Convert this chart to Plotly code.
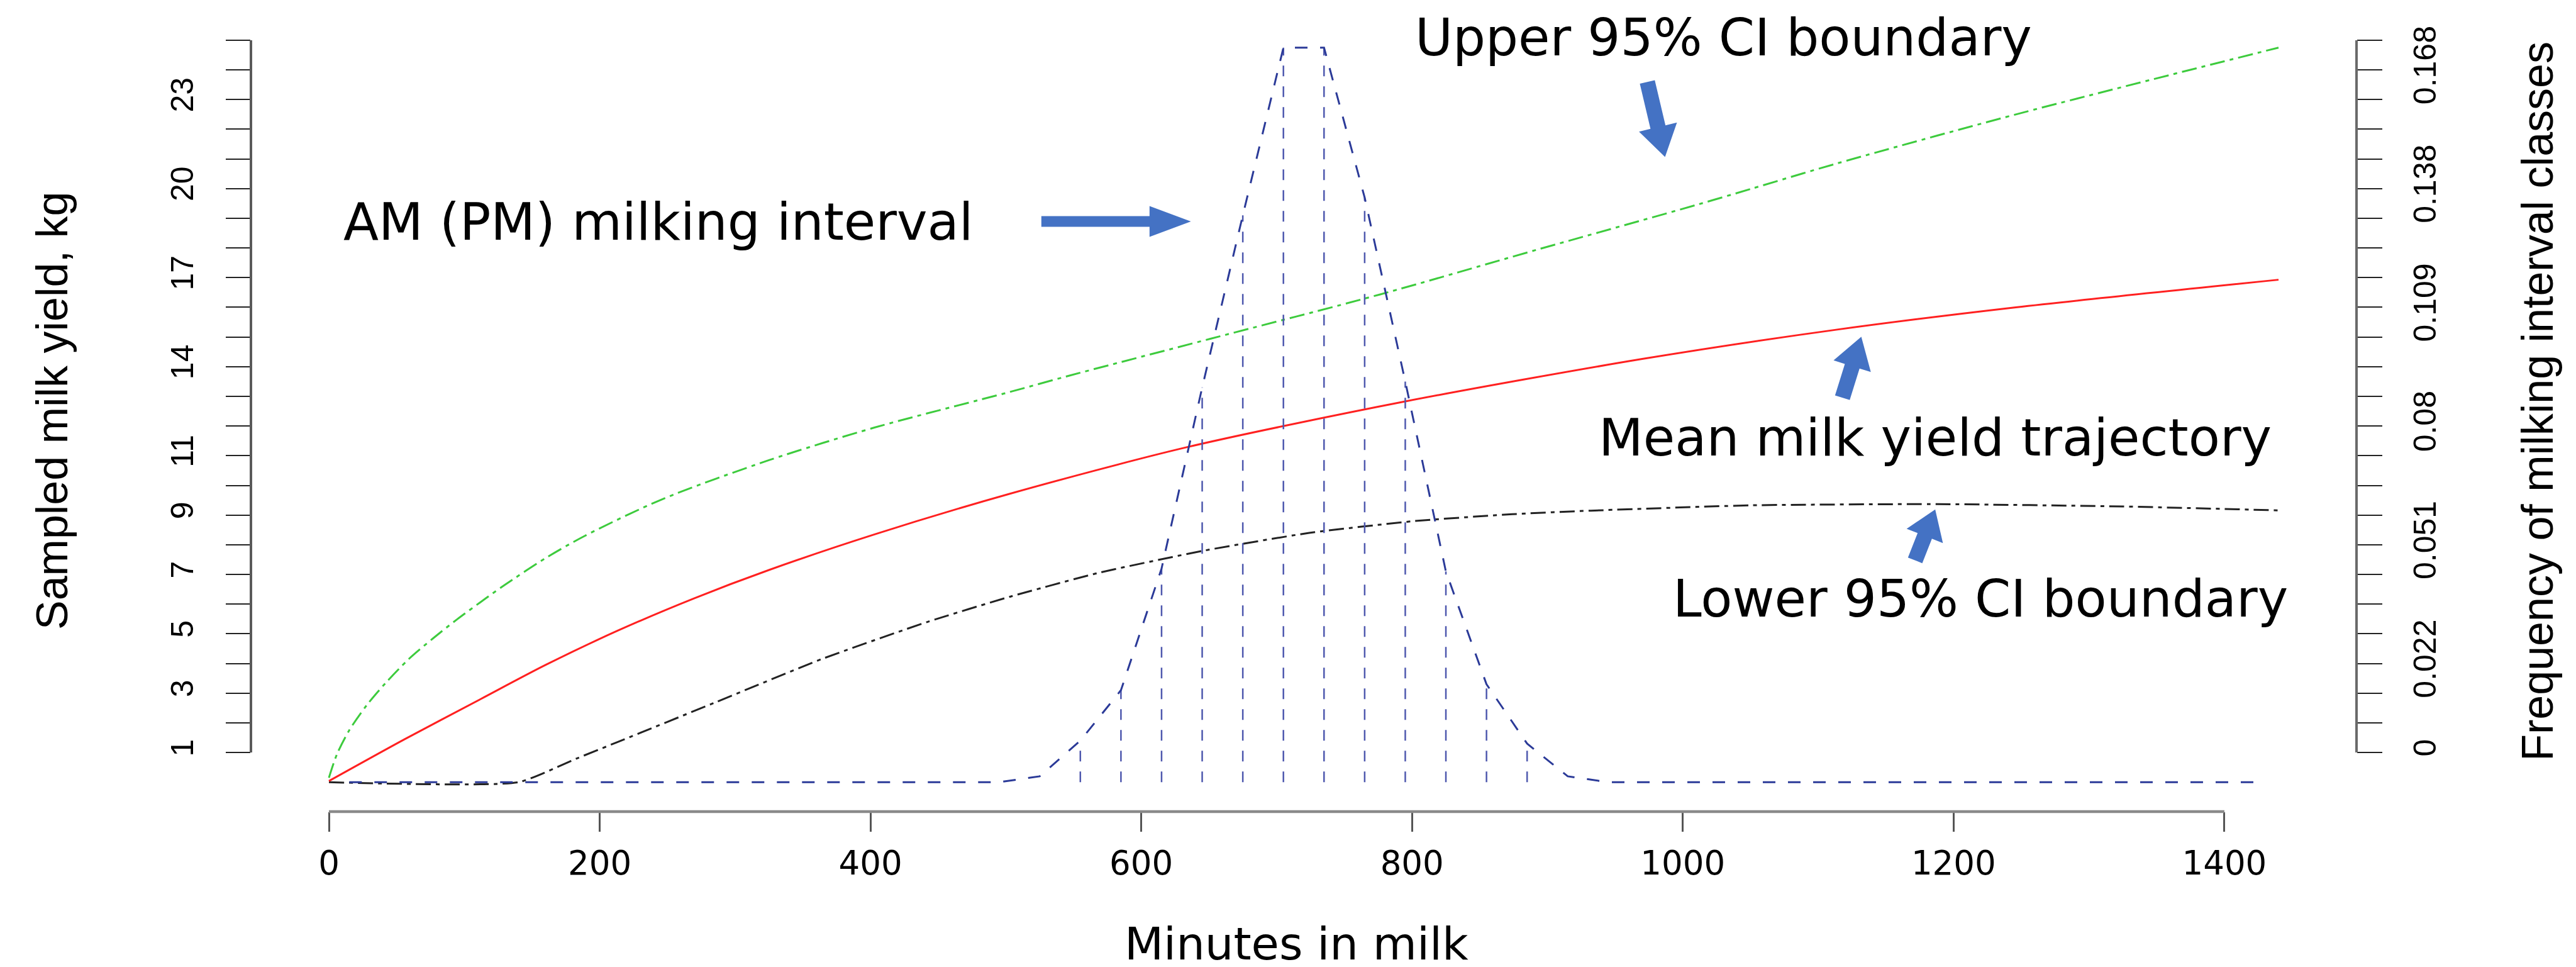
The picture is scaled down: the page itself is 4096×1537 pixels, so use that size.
import math
import plotly.graph_objects as go

# ---------------- data ----------------
mean_min = [0, 56, 112, 160, 213, 270, 325, 403, 503, 633, 795, 970, 1114, 1246, 1440]
mean_kg = [0.04, 1.45, 2.8, 3.95, 5.1, 6.2, 7.15, 8.35, 9.72, 11.28, 12.83, 14.26, 15.25, 16.0, 16.93]

upper_min = [0, 6, 15, 28, 42, 59, 77, 95, 116, 130, 160, 189, 247, 325, 403, 503, 547, 651, 776,
             893, 1010, 1051, 1114, 1246, 1440]
upper_kg = [0.15, 0.95, 1.75, 2.6, 3.35, 4.15, 4.85, 5.5, 6.2, 6.65, 7.55, 8.3, 9.55, 10.85, 11.95,
            13.15, 13.7, 14.94, 16.43, 17.95, 19.45, 20.0, 20.85, 22.5, 24.75]

lower_min = [0, 140, 183, 213, 286, 364, 442, 503, 568, 646, 724, 802, 874, 932, 1051, 1188, 1325, 1440]
lower_kg = [0, 0, 0.8, 1.35, 2.7, 4.15, 5.4, 6.25, 7.05, 7.8, 8.4, 8.8, 9.03, 9.15, 9.33, 9.37, 9.29, 9.16]

class_mid = list(range(15, 1426, 30))
class_freq = [0, 0, 0, 0, 0, 0, 0, 0, 0, 0, 0, 0, 0, 0, 0, 0, 0,
              0.2, 1.4, 3.1, 7.2, 13.3, 19.1, 24.75, 24.75, 19.7, 13.5, 7.1, 3.3, 1.3, 0.2,
              0, 0, 0, 0, 0, 0, 0, 0, 0, 0, 0, 0, 0, 0, 0, 0, 0]

x_ticks = [0, 200, 400, 600, 800, 1000, 1200, 1400]
y_tick_pos = list(range(1, 26))
left_tick_text = ['1', '', '3', '', '5', '', '7', '', '9', '', '11', '', '', '14', '', '', '17',
                  '', '', '20', '', '', '23', '', '']
right_tick_text = ['0', '', '', '0.022', '', '', '', '0.051', '', '', '', '0.08', '', '', '',
                   '0.109', '', '', '', '0.138', '', '', '', '0.168', '']

# ---------------- geometry ----------------
S = 0.94
W, H = 4096, 1537
ML, MR, MT, MB = 391, 357, 21, 255
PW, PH = W - ML - MR, H - MT - MB
XR = [-57.6, 1497.6]
YR = [-0.99, 25.74]

def px(xf, yf):
    """reference full-size pixel -> paper coords"""
    xo, yo = xf * S, yf * S
    return (xo - ML) / PW, (H - MB - yo) / PH

def xpaper(v):
    return (v - XR[0]) / (XR[1] - XR[0])

def ypaper(v):
    return (v - YR[0]) / (YR[1] - YR[0])

ARIAL = "Liberation Sans, Arial, sans-serif"
WIDE = "DejaVu Sans, Verdana, sans-serif"

fig = go.Figure()

# vertical class lines
vx, vy = [], []
for m, f in zip(class_mid, class_freq):
    if f >= 1:
        vx += [m, m, None]
        vy += [0, f, None]
fig.add_trace(go.Scatter(x=vx, y=vy, mode='lines', yaxis='y2',
                         line=dict(color='#4E58AE', width=2.5, dash='17px,16px'),
                         hoverinfo='skip'))
fig.add_trace(go.Scatter(x=class_mid, y=class_freq, mode='lines', yaxis='y2',
                         line=dict(color='#2B3A98', width=3, dash='20px,20px')))
fig.add_trace(go.Scatter(x=lower_min, y=lower_kg, mode='lines',
                         line=dict(color='#222222', width=3, dash='24px,8px,6px,8px',
                                   shape='spline', smoothing=0.5)))
fig.add_trace(go.Scatter(x=upper_min, y=upper_kg, mode='lines',
                         line=dict(color='#3DCB3D', width=3, dash='24px,8px,6px,8px',
                                   shape='spline', smoothing=0.8)))
fig.add_trace(go.Scatter(x=mean_min, y=mean_kg, mode='lines',
                         line=dict(color='#FF2020', width=3, shape='spline', smoothing=0.8)))

shapes = []
# axis lines (R style: only between extreme ticks)
shapes.append(dict(type='line', xref='paper', yref='paper', x0=xpaper(0), x1=xpaper(1400),
                   y0=0, y1=0, line=dict(color='#8A8A8A', width=4.5)))
shapes.append(dict(type='line', xref='paper', yref='paper', x0=0, x1=0,
                   y0=ypaper(1), y1=ypaper(25), line=dict(color='#5A5A5A', width=4)))
shapes.append(dict(type='line', xref='paper', yref='paper', x0=1, x1=1,
                   y0=ypaper(1), y1=ypaper(25), line=dict(color='#6A6A6A', width=4)))

# block arrows (reference pixel geometry)
def arrow(tail, tip, w, h, hl):
    tx, ty = tail; qx, qy = tip
    dx, dy = qx - tx, qy - ty
    ln = math.hypot(dx, dy)
    ux, uy = dx / ln, dy / ln
    nx, ny = -uy, ux
    bx, by = qx - ux * hl, qy - uy * hl
    pts = [(tx + nx * w, ty + ny * w), (bx + nx * w, by + ny * w), (bx + nx * h, by + ny * h),
           (qx, qy), (bx - nx * h, by - ny * h), (bx - nx * w, by - ny * w), (tx - nx * w, ty - ny * w)]
    pp = [px(a, b) for a, b in pts]
    path = 'M ' + ' L '.join(f'{a:.5f},{b:.5f}' for a, b in pp) + ' Z'
    return dict(type='path', xref='paper', yref='paper', path=path,
                fillcolor='#4472C4', line=dict(width=0))

shapes.append(arrow((1753, 366), (2006, 366), 9, 26, 70))
shapes.append(arrow((2778, 130), (2808, 257), 13, 33, 52))
shapes.append(arrow((3108, 664), (3140, 561), 13, 33, 52))
shapes.append(arrow((3231, 939), (3265, 853), 13, 33, 48))

annotations = []
def note(text, xf, yf, size, family=WIDE, angle=0, weight='normal'):
    x, y = px(xf, yf)
    annotations.append(dict(text=text, x=x, y=y, xref='paper', yref='paper', showarrow=False,
                            xanchor='center', yanchor='middle', textangle=angle,
                            font=dict(family=family, size=size, color='black', weight=weight)))

note('AM (PM) milking interval', 1105, 366, 82)
note('Upper 95% CI boundary', 2907, 55, 82)
note('Mean milk yield trajectory', 3265, 731, 82)
note('Lower 95% CI boundary', 3342, 1004, 82)

note('Sampled milk yield, kg', 80, 686, 70, family=ARIAL, angle=-90)
note('Frequency of milking interval classes', 4284, 670, 70, family=ARIAL, angle=-90)
note('Minutes in milk', 2185, 1587, 72, family=WIDE)

fig.update_layout(
    width=W, height=H,
    margin=dict(l=ML, r=MR, t=MT, b=MB, pad=0),
    paper_bgcolor='white', plot_bgcolor='white',
    showlegend=False,
    xaxis=dict(range=XR, tickvals=x_ticks, ticks='outside', ticklen=31, tickwidth=2.5,
               tickcolor='#555555', showline=False, showgrid=False, zeroline=False,
               ticklabelstandoff=4,
               tickfont=dict(family=WIDE, size=53, color='black')),
    yaxis=dict(range=YR, tickvals=y_tick_pos, ticktext=left_tick_text, ticks='outside',
               ticklen=39.5, tickwidth=2, tickcolor='#222222', tickangle=-90,
               showline=False, showgrid=False, zeroline=False, ticklabelstandoff=32,
               tickfont=dict(family=ARIAL, size=50, color='black')),
    yaxis2=dict(range=YR, tickvals=y_tick_pos, ticktext=right_tick_text, ticks='outside',
                ticklen=39.5, tickwidth=2, tickcolor='#222222', tickangle=-90,
                overlaying='y', side='right', ticklabelstandoff=25,
                showline=False, showgrid=False, zeroline=False,
                tickfont=dict(family=ARIAL, size=50, color='black')),
    shapes=shapes, annotations=annotations,
)

fig.write_html('out.html')
